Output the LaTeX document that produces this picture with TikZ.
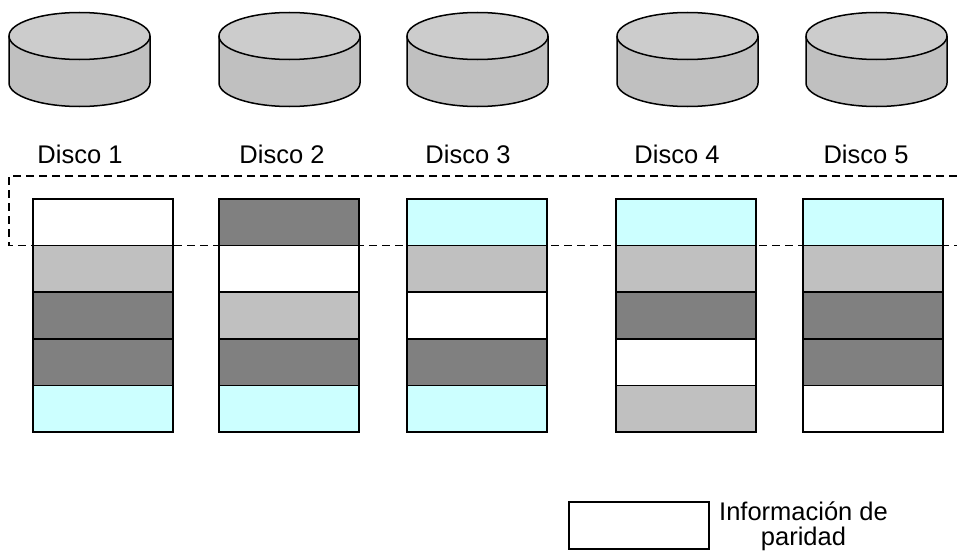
\documentclass[tikz,border=0pt]{standalone}
\usepackage{fontspec}
\setmainfont{Liberation Sans}
\definecolor{topgray}{HTML}{CCCCCC}
\definecolor{sidegray}{HTML}{C0C0C0}
\definecolor{lightblk}{HTML}{C0C0C0}
\definecolor{darkblk}{HTML}{808080}
\definecolor{parity}{HTML}{CCFFFF}
\begin{document}
\begin{tikzpicture}[x=1pt,y=-1pt,
  blk/.style={draw=black, line width=1.5pt, minimum width=140pt, minimum height=46.6pt,
              inner sep=0pt, outer sep=0pt, anchor=north west},
  lbl/.style={font=\fontsize{25.5}{25}\selectfont, anchor=base, inner sep=0pt},
  diskline/.style={draw=black, line width=1.5pt},
  stripe/.style={draw=black, line width=1.5pt, dash pattern=on 8pt off 5pt}]
\useasboundingbox (0,0) rectangle (957,551);

% disk drums
\foreach \xl/\nm in {9/d1,219/d2,407/d3,617/d4,806/d5}{
  \draw[diskline, fill=sidegray] (\xl,36) -- (\xl,83)
     arc[start angle=180, end angle=360, x radius=70.5pt, y radius=23.5pt]
     -- (\xl+141,36);
  \draw[diskline, fill=topgray] (\xl+70.5,36) ellipse [x radius=70.5pt, y radius=23.5pt];
  \coordinate (\nm) at (\xl+70.5,59.5);
}

% disk labels
\node[lbl] (l1) at (80,163)  {Disco 1};
\node[lbl] (l2) at (282,163) {Disco 2};
\node[lbl] (l3) at (468,163) {Disco 3};
\node[lbl] (l4) at (677,163) {Disco 4};
\node[lbl] (l5) at (866,163) {Disco 5};

% block columns (top to bottom)
\foreach \xl/\c/\ca/\cb/\cc/\cd/\ce in {
    33/a/white/lightblk/darkblk/darkblk/parity,
    219/b/darkblk/white/lightblk/darkblk/parity,
    407/c/parity/lightblk/white/darkblk/parity,
    616/d/parity/lightblk/darkblk/white/lightblk,
    803/e/parity/lightblk/darkblk/darkblk/white}{
  \node[blk, fill=\ca] (\c1) at (\xl,199)   {};
  \node[blk, fill=\cb] (\c2) at (\xl,245.6) {};
  \node[blk, fill=\cc] (\c3) at (\xl,292.2) {};
  \node[blk, fill=\cd] (\c4) at (\xl,338.8) {};
  \node[blk, fill=\ce] (\c5) at (\xl,385.4) {};
}

% dashed stripe across the first row
\draw[stripe] (957,176) -- (9,176) -- (9,245.6) -- (957,245.6);

% legend
\node[blk, fill=white, minimum height=47pt] (legbox) at (569,502) {};
\node[lbl, align=center] (legtxt) at (803.5,545) {Información de\\paridad};
\end{tikzpicture}
\end{document}
